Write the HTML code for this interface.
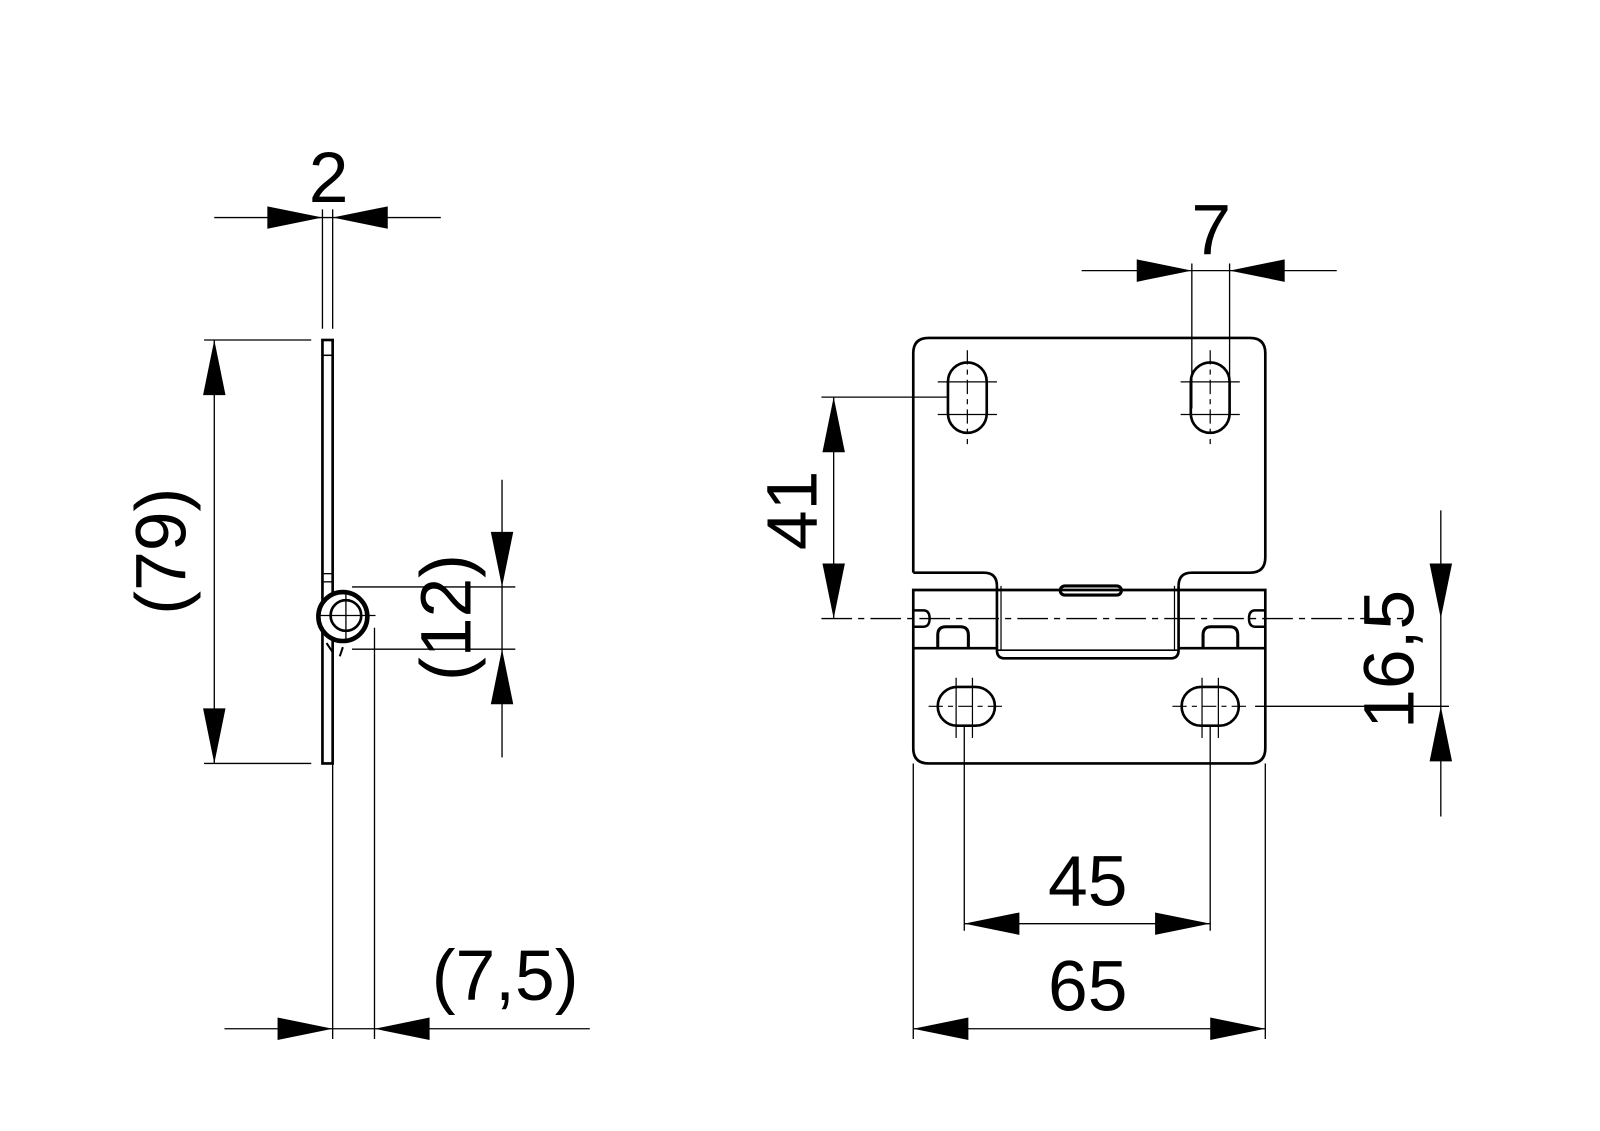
<!DOCTYPE html>
<html><head><meta charset="utf-8"><style>html,body{margin:0;padding:0;background:#fff}svg{display:block}</style></head>
<body>
<svg width="1600" height="1131" viewBox="0 0 1568 1108" xmlns="http://www.w3.org/2000/svg" font-family="Liberation Sans, sans-serif">
<g stroke="#000" fill="none" stroke-width="1.3">
<!-- LEFT VIEW -->
<line x1="316" y1="205" x2="316" y2="322"/><line x1="326" y1="205" x2="326" y2="322"/>
<line x1="210" y1="213" x2="432" y2="213"/>
<rect x="316" y="333" width="10" height="415" stroke-width="2.6"/>
<line x1="316" y1="348" x2="326" y2="348" stroke-width="1.5"/>
<line x1="316" y1="562" x2="326" y2="562"/><line x1="316" y1="570" x2="326" y2="570"/>
<circle cx="336" cy="604" r="24" fill="#fff" stroke-width="4.5"/>
<circle cx="339" cy="603" r="15" stroke-width="2.6"/>
<line x1="310" y1="603" x2="368" y2="603"/><line x1="339" y1="578" x2="339" y2="630"/>
<line x1="320" y1="630" x2="326" y2="639" stroke-width="2"/><line x1="336" y1="634" x2="333" y2="643" stroke-width="2"/>
<line x1="200" y1="333" x2="305" y2="333"/><line x1="200" y1="748" x2="305" y2="748"/>
<line x1="210" y1="333" x2="210" y2="748"/>
<line x1="345" y1="575" x2="505" y2="575"/><line x1="345" y1="636" x2="505" y2="636"/>
<line x1="492" y1="470" x2="492" y2="742"/>
<line x1="326" y1="748" x2="326" y2="1018"/><line x1="367" y1="615" x2="367" y2="1018"/>
<line x1="220" y1="1008" x2="578" y2="1008"/>

<!-- RIGHT VIEW -->
<path d="M895 561 V346 Q895 331 910 331 H1225 Q1240 331 1240 346 V546 Q1240 561 1225 561 H1168 Q1155 561 1155 574" stroke-width="2.6"/>
<path d="M895 561 H964 Q977 561 977 574" stroke-width="2.6"/>
<path d="M895 578 H1240 V733 Q1240 748 1225 748 H910 Q895 748 895 733 Z" stroke-width="2.6"/>
<path d="M977 574 V637 Q977 645 985 645 H1147 Q1155 645 1155 637 V574" stroke-width="2.6"/>
<line x1="981" y1="574" x2="981" y2="637" stroke-width="1.2"/><line x1="1151" y1="574" x2="1151" y2="637" stroke-width="1.2"/>
<line x1="977" y1="637" x2="1155" y2="637" stroke-width="1.5"/>
<line x1="895" y1="635" x2="977" y2="635" stroke-width="2.6"/><line x1="1155" y1="635" x2="1240" y2="635" stroke-width="2.6"/>
<rect x="1039" y="574" width="60" height="9" rx="4.5" stroke-width="3"/>
<path d="M919 635 V622 Q919 614 927 614 H941 Q949 614 949 622 V635" stroke-width="3"/>
<path d="M1179 635 V622 Q1179 614 1187 614 H1205 Q1213 614 1213 622 V635" stroke-width="3"/>
<path d="M895 598 H905 Q911 598 911 606 Q911 614 905 614 H895" stroke-width="2.4"/>
<path d="M1240 598 H1230 Q1224 598 1224 606 Q1224 614 1230 614 H1240" stroke-width="2.4"/>
<line x1="805" y1="606" x2="1380" y2="606" stroke-dasharray="30,6,6,6"/>
<rect x="929" y="355" width="38" height="69" rx="19" stroke-width="2.6"/>
<rect x="1167" y="355" width="38" height="69" rx="19" stroke-width="2.6"/>
<g stroke-width="1.2">
<line x1="919" y1="374" x2="977" y2="374"/><line x1="919" y1="406" x2="977" y2="406"/>
<line x1="948" y1="343" x2="948" y2="435" stroke-dasharray="14,5,5,5"/>
<line x1="1157" y1="374" x2="1215" y2="374"/><line x1="1157" y1="406" x2="1215" y2="406"/>
<line x1="1186" y1="343" x2="1186" y2="435" stroke-dasharray="14,5,5,5"/>
</g>
<rect x="919" y="673" width="56" height="38" rx="19" stroke-width="2.6"/>
<rect x="1158" y="673" width="56" height="38" rx="19" stroke-width="2.6"/>
<g stroke-width="1.2">
<line x1="937" y1="664" x2="937" y2="723"/><line x1="953" y1="664" x2="953" y2="723"/>
<line x1="910" y1="692" x2="985" y2="692" stroke-dasharray="14,5,5,5"/>
<line x1="1178" y1="664" x2="1178" y2="723"/><line x1="1194" y1="664" x2="1194" y2="723"/>
<line x1="1149" y1="692" x2="1224" y2="692" stroke-dasharray="14,5,5,5"/>
</g>
<line x1="1168" y1="258" x2="1168" y2="400"/><line x1="1205" y1="258" x2="1205" y2="400"/>
<line x1="1060" y1="265" x2="1310" y2="265"/>
<line x1="805" y1="389" x2="928" y2="389"/>
<line x1="817" y1="389" x2="817" y2="606"/>
<line x1="1230" y1="692" x2="1420" y2="692"/>
<line x1="1412" y1="500" x2="1412" y2="800"/>
<line x1="945" y1="712" x2="945" y2="912"/><line x1="1186" y1="712" x2="1186" y2="912"/>
<line x1="945" y1="905" x2="1186" y2="905"/>
<line x1="895" y1="748" x2="895" y2="1018"/><line x1="1240" y1="748" x2="1240" y2="1018"/>
<line x1="895" y1="1008" x2="1240" y2="1008"/>
</g>
<g fill="#000">
<polygon points="316,213 262,202 262,224"/><polygon points="326,213 380,202 380,224"/>
<polygon points="210,333 199,387 221,387"/><polygon points="210,748 199,694 221,694"/>
<polygon points="492,575 481,521 503,521"/><polygon points="492,636 481,690 503,690"/>
<polygon points="326,1008 272,997 272,1019"/><polygon points="367,1008 421,997 421,1019"/>
<polygon points="1168,265 1114,254 1114,276"/><polygon points="1205,265 1259,254 1259,276"/>
<polygon points="817,389 806,443 828,443"/><polygon points="817,606 806,552 828,552"/>
<polygon points="1412,606 1401,552 1423,552"/><polygon points="1412,692 1401,746 1423,746"/>
<polygon points="945,905 999,894 999,916"/><polygon points="1186,905 1132,894 1132,916"/>
<polygon points="895,1008 949,997 949,1019"/><polygon points="1240,1008 1186,997 1186,1019"/>
</g>
<g font-size="70" fill="#000" text-anchor="middle">
<text x="322" y="198">2</text>
<text x="1187" y="249">7</text>
<text x="1066" y="887">45</text>
<text x="1066" y="990">65</text>
<text x="495" y="980">(7,5)</text>
<text transform="translate(182,540) rotate(-90)">(79)</text>
<text transform="translate(461,605) rotate(-90)">(12)</text>
<text transform="translate(800,500) rotate(-90)">41</text>
<text transform="translate(1385,646) rotate(-90)">16,5</text>
</g>
</svg>
</body></html>
